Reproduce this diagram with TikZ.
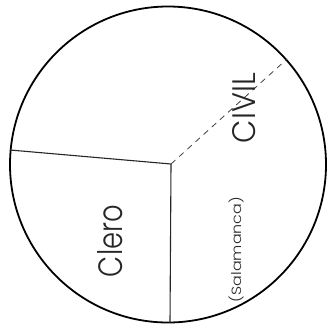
\documentclass[tikz,border=0pt]{standalone}
\usepackage{graphicx}
\usepackage{fontspec}
\setmainfont{Poppins Light}
\tikzset{
  rim/.style={line width=1.8pt, black},
  divider/.style={line width=1.1pt, black!85},
  dashdiv/.style={line width=0.8pt, black!75, dash pattern=on 6pt off 5pt},
  label/.style={inner sep=0pt, rotate=90, text=black!85}
}
\begin{document}
\begin{tikzpicture}[x=1pt,y=-1pt]
  \useasboundingbox (0,0) rectangle (328,327);
  \coordinate (c) at (168,164.5);
  \coordinate (o) at (171,164);
  \coordinate (left) at (10,150);
  \coordinate (bottom) at (170,322.5);
  \coordinate (upright) at (287,59);
  \draw[rim] (c) circle[radius=158];
  \draw[divider] (left) -- (o) -- (bottom);
  \draw[dashdiv] (o) -- (upright);
  \node[label] (civil) at (244,108) {\resizebox{70pt}{23pt}{CIVIL}};
  \node[label] (clero) at (110,241) {\resizebox{72pt}{25pt}{Clero}};
  \node[label] (sal) at (236,249.5) {\resizebox*{105pt}{15pt}{(Salamanca)}};
\end{tikzpicture}
\end{document}
